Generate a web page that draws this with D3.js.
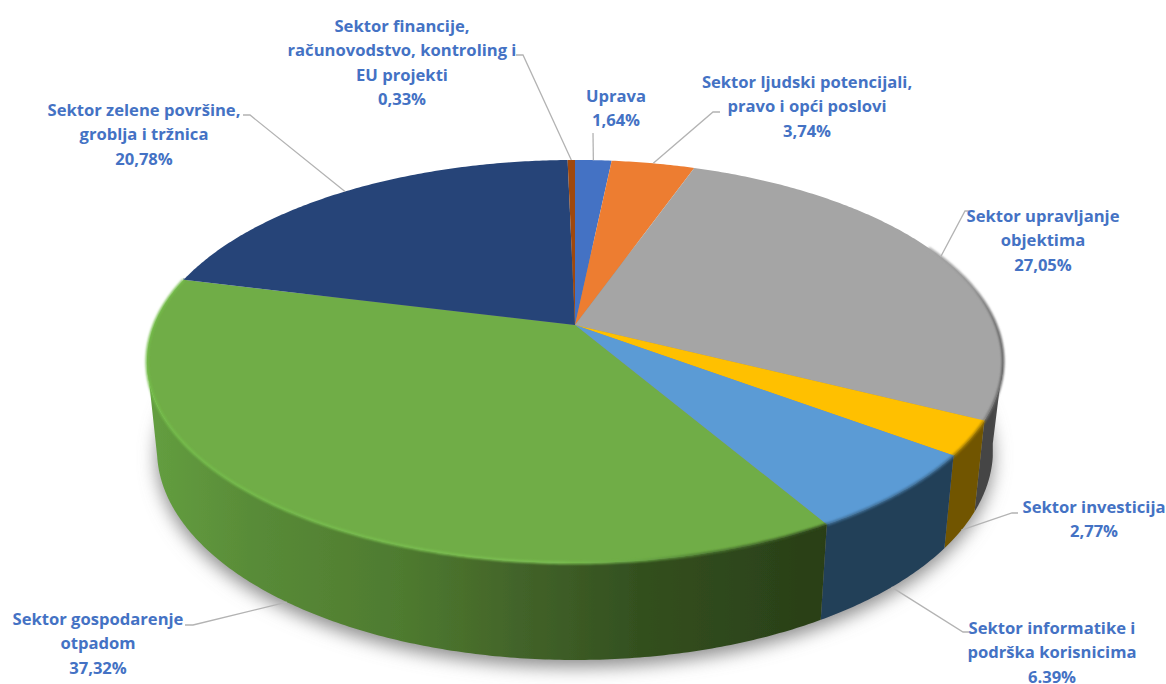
<!DOCTYPE html>
<html>
<head>
<meta charset="utf-8">
<script src="https://cdn.jsdelivr.net/npm/d3@7"></script>
<style>
  html, body { margin: 0; background: #fff; }
  .label { font-family: "Open Sans", sans-serif; font-weight: 700; font-size: 16.6px; fill: #4472c4; text-anchor: middle; }
</style>
</head>
<body>
<svg width="1166" height="684"></svg>
<script>
const sectors = ['Uprava', 'Ljudski', 'Upravljanje', 'Investicija', 'Informatika', 'Gospodarenje', 'Zelene', 'Financije'];
const shares = [1.64, 3.74, 27.05, 2.77, 6.39, 37.32, 20.78, 0.33];
const topColors = ['#4472c4', '#ed7d31', '#a5a5a5', '#ffc000', '#5b9bd5', '#70ad47', '#264478', '#9e480e'];
const labelLines = [
    ['Uprava', '1,64%'],
    ['Sektor ljudski potencijali,', 'pravo i opći poslovi', '3,74%'],
    ['Sektor upravljanje', 'objektima', '27,05%'],
    ['Sektor investicija', '2,77%'],
    ['Sektor informatike i', 'podrška korisnicima', '6.39%'],
    ['Sektor gospodarenje', 'otpadom', '37,32%'],
    ['Sektor zelene površine,', 'groblja i tržnica', '20,78%'],
    ['Sektor financije,', 'računovodstvo, kontroling i', 'EU projekti', '0,33%']
];

// label anchor (centre x, first baseline), leader elbow points, which rim the leader ends on
const labelLayout = [
    { x: 616, y: 102, leader: [[593, 133]], rim: 'top' },
    { x: 807, y: 88, leader: [[720, 112], [713, 112]], rim: 'top' },
    { x: 1043, y: 222, leader: [[971, 211], [965, 211]], rim: 'top' },
    { x: 1094, y: 513, leader: [[1018, 513], [1012, 513]], rim: 'bottom' },
    { x: 1052, y: 634, leader: [[970, 632], [963, 632]], rim: 'bottom' },
    { x: 98, y: 625, leader: [[185, 625], [193, 625]], rim: 'bottom' },
    { x: 144, y: 116, leader: [[243, 115], [250, 115]], rim: 'top' },
    { x: 402, y: 32, leader: [[516, 55], [523, 55]], rim: 'top' }
];
const lineHeight = 24.3;

// perspective of the disc: apex on screen, radii, foreshortening
const cx = 575, cy = 325, radiusX = 421, radiusY = 194.9, persp = 0.181;
// outline of the underside
const baseCy = 450, baseRx = 418, baseRy = 210, bottomScale = 0.976;
const tau = 2 * Math.PI;

const topPoint = a => {
    const u = Math.sin(a), v = -Math.cos(a), w = 1 - persp * v;
    return [cx + radiusX * u / w, cy + radiusY * v / w];
};
const bottomPoint = a => {
    const x = cx + (topPoint(a)[0] - cx) * bottomScale;
    const t = Math.min(1, Math.abs(x - cx) / baseRx);
    const side = -Math.cos(a) > persp ? 1 : -1;
    return [x, baseCy + side * baseRy * Math.sqrt(1 - t * t)];
};
const sample = (a0, a1) => {
    const n = Math.max(2, Math.ceil(Math.abs(a1 - a0) / 0.01));
    return d3.range(n + 1).map(i => a0 + (a1 - a0) * i / n);
};

const svg = d3.select('svg');
const defs = svg.append('defs');
const line = d3.line();

const blur = (id, dev) => defs.append('filter').attr('id', id)
    .attr('x', '-10%').attr('y', '-10%').attr('width', '120%').attr('height', '120%')
    .append('feGaussianBlur').attr('stdDeviation', dev);
blur('shadow', 9);
blur('soft', 1);
blur('edge', 0.5);

const gradient = (id, x1, x2, stops) => {
    const g = defs.append('linearGradient').attr('id', id)
        .attr('gradientUnits', 'userSpaceOnUse')
        .attr('x1', x1).attr('x2', x2).attr('y1', 0).attr('y2', 0);
    stops.forEach(s => g.append('stop').attr('offset', s[0]).attr('stop-color', s[1]));
};
gradient('wall-green', 146, 830, [[0, '#649f40'], [0.15, '#598c38'], [0.38, '#4e7a2f'], [0.55, '#426329'], [0.72, '#33501f'], [1, '#293e17']]);
gradient('wall-gray', 950, 1003, [[0, '#474747'], [0.8, '#444444'], [1, '#585858']]);
gradient('rim-green', 146, 830, [[0, '#74bd4a'], [0.6, '#7cc152'], [0.72, '#6aa845'], [0.82, '#4c7a30'], [1, '#2f481c']]);
gradient('rim-gray', 930, 1003, [[0, '#a5a5a5'], [0.6, '#8f8f8f'], [1, '#5c5c5c']]);

const wallFill = ['#3a5f9a', '#b35e24', 'url(#wall-gray)', '#715500', '#243f58', 'url(#wall-green)', '#1b3054', '#6e3209'];
const rimColor = ['#4472c4', '#ed7d31', 'url(#rim-gray)', '#a98000', '#3f6f98', 'url(#rim-green)', '#264478', '#9e480e'];

const arcs = d3.pie().sort(null).value(d => d).startAngle(0).endAngle(tau)(shares);

// soft shadow under the disc
svg.append('path')
    .attr('d', line(sample(0, tau).map(bottomPoint)) + 'Z')
    .attr('transform', 'translate(0, 7)')
    .attr('fill', '#8c8c8c')
    .attr('filter', 'url(#shadow)');

// outer wall, between the two points where the rim is widest
const wallFrom = Math.acos(-persp), wallTo = tau - wallFrom;
svg.append('g').selectAll('path').data(arcs).enter()
    .filter(d => d.endAngle > wallFrom && d.startAngle < wallTo)
    .append('path')
    .attr('d', d => {
        const a0 = Math.max(d.startAngle, wallFrom), a1 = Math.min(d.endAngle, wallTo);
        const angles = sample(a0, a1);
        return line(angles.map(topPoint).concat(angles.slice().reverse().map(bottomPoint))) + 'Z';
    })
    .attr('fill', d => wallFill[d.index])
    .attr('filter', 'url(#edge)');

// top face
svg.append('g').selectAll('path').data(arcs).enter().append('path')
    .attr('d', d => line([[cx, cy]].concat(sample(d.startAngle, d.endAngle).map(topPoint))) + 'Z')
    .attr('fill', d => topColors[d.index]);

// bevel along the front of the rim
const rimFrom = tau * 0.18, rimTo = tau * 0.79;
svg.append('g').selectAll('path').data(arcs).enter()
    .filter(d => d.endAngle > rimFrom && d.startAngle < rimTo)
    .append('path')
    .attr('d', d => line(sample(Math.max(d.startAngle, rimFrom), Math.min(d.endAngle, rimTo)).map(topPoint)))
    .attr('fill', 'none')
    .attr('stroke', d => rimColor[d.index])
    .attr('stroke-width', 2.6)
    .attr('filter', 'url(#soft)');

// leaders
svg.append('g').selectAll('path').data(arcs).enter().append('path')
    .attr('d', d => {
        const layout = labelLayout[d.index];
        const mid = (d.startAngle + d.endAngle) / 2;
        const end = layout.rim === 'top' ? topPoint(mid) : bottomPoint(mid);
        return line(layout.leader.concat([end]));
    })
    .attr('fill', 'none')
    .attr('stroke', '#b3b3b3')
    .attr('stroke-width', 1.3);

// labels
const labels = svg.append('g').selectAll('text').data(labelLines).enter().append('text')
    .attr('class', 'label')
    .attr('x', (d, i) => labelLayout[i].x)
    .attr('y', (d, i) => labelLayout[i].y);
labels.selectAll('tspan').data((d, i) => d.map(t => ({ t, x: labelLayout[i].x }))).enter().append('tspan')
    .attr('x', d => d.x)
    .attr('dy', (d, i) => i === 0 ? 0 : lineHeight)
    .text(d => d.t);
</script>
</body>
</html>
